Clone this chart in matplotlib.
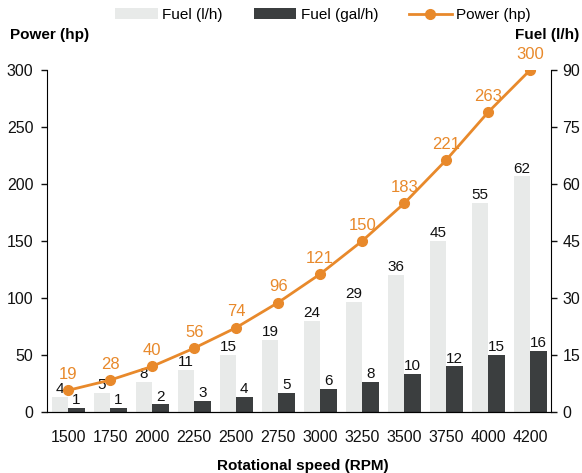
import matplotlib
matplotlib.use("Agg")
import matplotlib.pyplot as plt
import numpy as np

rpm = ["1500", "1750", "2000", "2250", "2500", "2750", "3000", "3250", "3500", "3750", "4000", "4200"]
power_hp = [19, 28, 40, 56, 74, 96, 121, 150, 183, 221, 263, 300]
fuel_lh = [4, 5, 8, 11, 15, 19, 24, 29, 36, 45, 55, 62]
fuel_galh = [1, 1, 2, 3, 4, 5, 6, 8, 10, 12, 15, 16]

plt.rcParams['font.family'] = ['Liberation Sans', 'DejaVu Sans']

LIGHT = "#E8EAE9"
DARK = "#3B3E3F"
ORANGE = "#E8892B"

fig = plt.figure(figsize=(5.82, 4.73), dpi=100)
ax = fig.add_axes([0.081, 0.129, 0.866, 0.723])
ax2 = ax.twinx()

x = np.arange(len(rpm))
w = 0.39

b1 = ax2.bar(x - w/2, fuel_lh, width=w, color=LIGHT, label="Fuel (l/h)", zorder=1)
b2 = ax2.bar(x + w/2, fuel_galh, width=w, color=DARK, label="Fuel (gal/h)", zorder=1)
for xi, v in zip(x, fuel_lh):
    ax2.annotate(f"{v}", (xi - w/2, v), xytext=(0, 0.5), textcoords="offset points",
                 ha="center", va="bottom", fontsize=11, color="#111111")
for xi, v in zip(x, fuel_galh):
    ax2.annotate(f"{v}", (xi + w/2, v), xytext=(0, 0.5), textcoords="offset points",
                 ha="center", va="bottom", fontsize=11, color="#111111")

ax.set_zorder(ax2.get_zorder() + 1)
ax.patch.set_visible(False)

ln, = ax.plot(x, power_hp, color=ORANGE, lw=2, marker="o", ms=7, label="Power (hp)", zorder=3)
for xi, v in zip(x, power_hp):
    ax.annotate(f"{v}", (xi, v), xytext=(0, 6), textcoords="offset points",
                ha="center", va="bottom", fontsize=12, color=ORANGE)

ax.set_xlim(-0.5, len(rpm) - 0.5)
ax.set_ylim(0, 300)
ax2.set_ylim(0, 90)
ax.set_yticks(range(0, 301, 50))
ax2.set_yticks(range(0, 91, 15))
ax.set_xticks(x)
ax.set_xticklabels(rpm)

for a in (ax, ax2):
    a.spines["top"].set_visible(False)
    a.tick_params(labelsize=11.5, colors="#111111", length=4, width=1)
ax.spines["right"].set_visible(False)
ax2.spines["left"].set_visible(False)
ax.tick_params(axis="x", length=0, pad=13)
ax.tick_params(axis="y", pad=6)
ax2.tick_params(axis="y", pad=4)

fig.text(0.017, 0.925, "Power (hp)", fontsize=11, fontweight="bold", ha="left", va="center")
fig.text(0.996, 0.925, "Fuel (l/h)", fontsize=11, fontweight="bold", ha="right", va="center")
fig.text(0.52, 0.015, "Rotational speed (RPM)", fontsize=11, fontweight="bold", ha="center", va="center")

fig.legend(handles=[b1, b2, ln], loc="center", bbox_to_anchor=(0.555, 0.968), ncol=3,
           frameon=False, fontsize=11, handlelength=2.8, columnspacing=2.0, handletextpad=0.3)

fig.savefig("out.png", dpi=100)
